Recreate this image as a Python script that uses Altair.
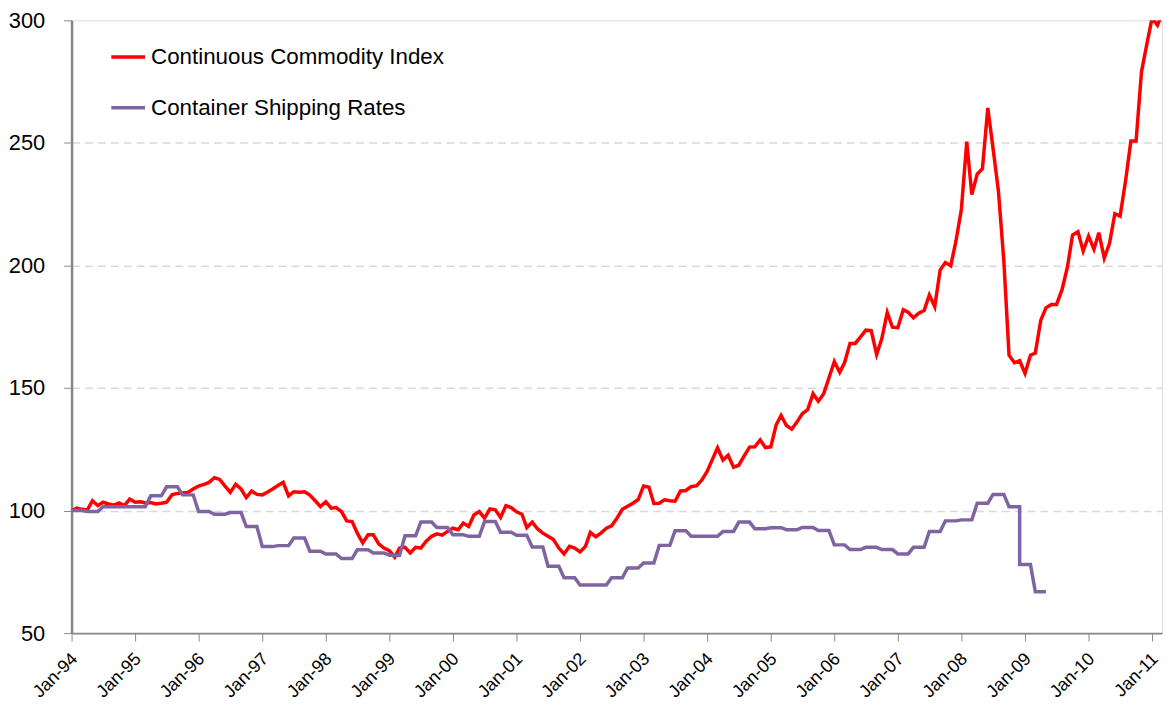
import altair as alt
import pandas as pd

START = "1994-01-01"

# Continuous Commodity Index, monthly from Jan-94 (Jan-94 = 100)
cci_values = [
    100.0, 101.0, 100.5, 100.2, 104.0, 102.0, 103.4, 102.7, 102.2, 103.1, 102.0, 104.7,   # 1994
    103.4, 103.6, 103.1, 103.3, 102.7, 103.0, 103.4, 106.4, 107.0, 107.2, 107.4, 108.8,   # 1995
    110.0, 110.7, 111.5, 113.4, 112.7, 110.0, 107.4, 110.7, 108.8, 105.3, 108.0, 106.6,   # 1996
    106.4, 107.6, 108.8, 110.2, 111.5, 106.0, 107.7, 107.5, 107.7, 106.3, 104.0, 101.6,   # 1997
    103.6, 101.0, 101.2, 99.6, 95.8, 95.5, 90.8, 86.8, 90.1, 90.1, 86.4, 84.7,            # 1998
    83.6, 81.0, 84.7, 85.0, 82.7, 85.0, 84.7, 87.5, 89.5, 90.5, 90.0, 91.5,               # 1999
    92.8, 92.2, 94.9, 93.5, 98.2, 99.6, 96.9, 100.7, 100.3, 97.2, 102.0, 101.2,           # 2000
    99.5, 98.5, 93.1, 95.3, 92.6, 90.8, 89.5, 88.2, 84.7, 82.3, 85.4, 84.7,               # 2001
    83.1, 85.4, 91.1, 89.3, 90.8, 92.8, 93.8, 96.9, 100.5, 101.8, 103.0, 104.5,           # 2002
    110.0, 109.5, 102.9, 103.0, 104.4, 104.0, 103.8, 108.0, 108.2, 109.8, 110.1, 112.4,   # 2003
    116.0, 121.0, 125.6, 120.6, 122.6, 117.7, 118.5, 122.3, 125.9, 126.0, 128.8, 125.7,   # 2004
    126.0, 135.0, 138.8, 134.7, 133.2, 136.2, 139.5, 141.2, 147.7, 144.6, 147.7, 154.1,   # 2005
    160.8, 156.4, 160.4, 168.2, 168.2, 170.9, 173.6, 173.4, 163.7, 170.2, 180.8, 174.8,   # 2006
    174.6, 181.9, 180.9, 178.6, 180.5, 181.6, 188.0, 183.2, 198.1, 201.2, 199.9, 210.0,   # 2007
    222.8, 250.5, 228.9, 237.3, 239.5, 264.3, 247.8, 230.3, 201.9, 163.4, 160.3, 161.1,   # 2008
    156.0, 163.4, 164.3, 177.6, 182.7, 184.1, 184.1, 190.0, 199.2, 212.4, 213.8, 205.9,   # 2009
    212.0, 206.6, 213.4, 203.0, 208.9, 221.1, 220.1, 234.3, 250.8, 250.8, 279.0, 290.0,   # 2010
    301.0, 298.0, 303.0,                                                                   # 2011
]

# Container Shipping Rates, monthly from Jan-94 (quarterly levels)
ship_values = [
    100.0, 100.0, 100.0, 99.6, 99.6, 99.6, 101.6, 101.6, 101.6, 101.6, 101.6, 101.6,      # 1994
    101.6, 101.6, 101.6, 106.0, 106.0, 106.0, 109.7, 109.7, 109.7, 106.4, 106.4, 106.4,   # 1995
    99.6, 99.6, 99.6, 98.5, 98.5, 98.5, 99.2, 99.2, 99.2, 93.5, 93.5, 93.5,               # 1996
    85.3, 85.3, 85.3, 85.7, 85.7, 85.7, 88.8, 88.8, 88.8, 83.4, 83.4, 83.4,               # 1997
    82.3, 82.3, 82.3, 80.4, 80.4, 80.4, 84.0, 84.0, 84.0, 82.7, 82.7, 82.7,               # 1998
    81.8, 81.8, 81.8, 89.7, 89.7, 89.7, 95.3, 95.3, 95.3, 93.1, 93.1, 93.1,               # 1999
    90.1, 90.1, 90.1, 89.5, 89.5, 89.5, 95.5, 95.5, 95.5, 91.2, 91.2, 91.2,               # 2000
    89.9, 89.9, 89.9, 85.1, 85.1, 85.1, 77.3, 77.3, 77.3, 72.6, 72.6, 72.6,               # 2001
    69.6, 69.6, 69.6, 69.6, 69.6, 69.6, 72.6, 72.6, 72.6, 76.6, 76.6, 76.6,               # 2002
    78.6, 78.6, 78.6, 85.8, 85.8, 85.8, 91.8, 91.8, 91.8, 89.5, 89.5, 89.5,               # 2003
    89.5, 89.5, 89.5, 91.5, 91.5, 91.5, 95.3, 95.3, 95.3, 92.6, 92.6, 92.6,               # 2004
    93.0, 93.0, 93.0, 92.2, 92.2, 92.2, 93.1, 93.1, 93.1, 91.9, 91.9, 91.9,               # 2005
    86.0, 86.0, 86.0, 84.1, 84.1, 84.1, 85.0, 85.0, 85.0, 84.1, 84.1, 84.1,               # 2006
    82.3, 82.3, 82.3, 85.0, 85.0, 85.0, 91.5, 91.5, 91.5, 95.8, 95.8, 95.8,               # 2007
    96.2, 96.2, 96.2, 103.0, 103.0, 103.0, 106.6, 106.6, 106.6, 101.6, 101.6, 101.6,      # 2008
    78.0, 78.0, 66.9, 66.9, 66.9,                                                          # 2009
]
# the shipping series drops vertically in Dec-08 (month index 179)
ship_break_month = 179
ship_break_value = 78.0

series_names = ["Continuous Commodity Index", "Container Shipping Rates"]
series_colors = ["#FF0000", "#8064A2"]
year_ticks = list(range(1994, 2012))
y_ticks = [50, 100, 150, 200, 250, 300]

FONT = "Liberation Sans, Arial, sans-serif"
BORDER = "#868686"

cci_dates = pd.date_range(START, periods=len(cci_values), freq="MS")
ship_dates = pd.date_range(START, periods=len(ship_values), freq="MS")

rows = []
k = 0
for d, v in zip(cci_dates, cci_values):
    rows.append({"date": d.strftime("%Y-%m-%d"), "value": v, "series": series_names[0], "order": k})
    k += 1
for i, (d, v) in enumerate(zip(ship_dates, ship_values)):
    rows.append({"date": d.strftime("%Y-%m-%d"), "value": v, "series": series_names[1], "order": k})
    k += 1
    if i == ship_break_month:
        rows.append({"date": d.strftime("%Y-%m-%d"), "value": ship_break_value,
                     "series": series_names[1], "order": k})
        k += 1
df = pd.DataFrame(rows)

x_domain = [alt.DateTime(year=1994, month=1, date=1, utc=True),
            alt.DateTime(year=2011, month=2, date=27, utc=True)]
x_values = [alt.DateTime(year=y, month=1, date=1, utc=True) for y in year_ticks]

chart = alt.Chart(df).mark_line(strokeWidth=3.5, clip=True).encode(
    x=alt.X("date:T",
            scale=alt.Scale(type="utc", domain=x_domain, nice=False),
            axis=alt.Axis(values=x_values,
                          labelExpr="utcFormat(datum.value, '%b-%y')",
                          labelAngle=-45, labelAlign="right", labelBaseline="middle",
                          labelFontSize=18, labelPadding=15, labelOffset=3,
                          tickSize=8, grid=False,
                          title=None, labelOverlap=False,
                          domain=True, domainColor=BORDER, domainWidth=2)),
    y=alt.Y("value:Q",
            scale=alt.Scale(domain=[50, 300], nice=False, zero=False),
            axis=alt.Axis(values=y_ticks, grid=True, gridDash=[8, 5], gridColor="#D9D9D9",
                          gridWidth=1.5,
                          gridOpacity={"condition": {"test": "datum.value <= 50 || datum.value >= 300",
                                                     "value": 0}, "value": 1},
                          labelFontSize=22, labelPadding=19, tickSize=8,
                          title=None, domain=True, domainColor=BORDER, domainWidth=2.5)),
    color=alt.Color("series:N",
                    scale=alt.Scale(domain=series_names, range=series_colors),
                    legend=alt.Legend(title=None, orient="none", legendX=38, legendY=18,
                                      symbolType="stroke", symbolSize=1156,
                                      symbolStrokeWidth=3.5, labelFontSize=22.5,
                                      labelOffset=4, rowPadding=20, labelColor="#000000",
                                      labelFont=FONT, labelLimit=500)),
    detail="series:N",
    order=alt.Order("order:Q"),
).properties(
    width=1098,
    height=617,
    autosize=alt.AutoSizeParams(type="none"),
    padding={"left": 64, "top": 10, "right": 3, "bottom": 80},
).configure_view(
    stroke=BORDER, strokeWidth=2
).configure_axis(
    tickColor="#A6A6A6", tickWidth=1.5,
    labelColor="#000000", labelFont=FONT
).configure(background="white")

chart.save("out.html", embed_options={"renderer": "svg", "actions": False})
